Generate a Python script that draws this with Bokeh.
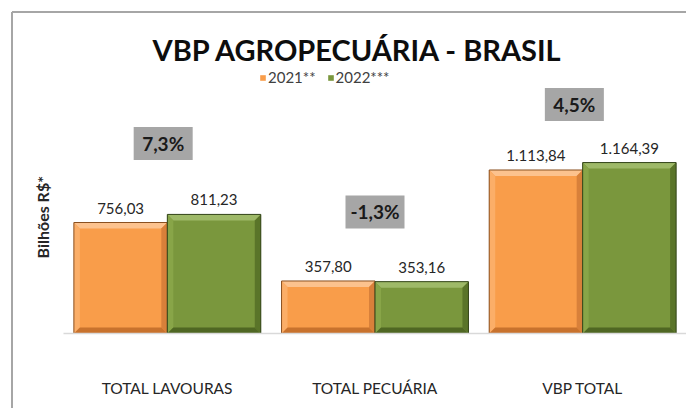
from bokeh.plotting import figure
from bokeh.models import ColumnDataSource, Legend, LegendItem, FixedTicker, Range1d, Title
from bokeh.core.properties import value
from bokeh.embed import file_html
from bokeh.resources import INLINE

# ---- data ----
categories = ["TOTAL LAVOURAS", "TOTAL PECUÁRIA", "VBP TOTAL"]
series = ["2021**", "2022***"]
v2021 = [756.03, 357.80, 1113.84]
v2022 = [811.23, 353.16, 1164.39]


def br(v):
    s = f"{v:,.2f}"
    return s.replace(",", "X").replace(".", ",").replace("X", ".")


pct = [(b / a - 1) * 100 for a, b in zip(v2021, v2022)]
pct_lbl = [f"{p:.1f}%".replace(".", ",") for p in pct]

# ---- layout helpers ----
FONT = "Lato"
FRAME_W = 623
FRAME_H = 266
Y_END = 1812
centers = [i + 0.5 for i in range(len(categories))]
bw = 0.45
x21 = [c - bw / 2 for c in centers]
x22 = [c + bw / 2 for c in centers]
box_gap = [483, 470, 396]          # vertical gap (data units) of % boxes above tallest bar
box_y = [max(a, b) + g for a, b, g in zip(v2021, v2022, box_gap)]
box_x = [c - dx for c, dx in zip(centers, [0.02, 0.0, 0.04])]

ORANGE = dict(main="#F99D4A", top="#FCC28E", left="#FBAE68", right="#D8803A",
              bottom="#C8722D", edge="#8A5020")
GREEN = dict(main="#7A973D", top="#9EB968", left="#88A548", right="#5A7429",
             bottom="#4F6723", edge="#33451A")

tx = 6 / FRAME_W * 3          # bevel thickness in x data units (~6 px)
ty = 6 / FRAME_H * Y_END      # bevel thickness in y data units (~6 px)

p = figure(width=686, height=408, output_backend="svg", toolbar_location=None,
           x_range=Range1d(0, 3), y_range=Range1d(0, Y_END),
           min_border_left=63, min_border_right=0, min_border_top=67,
           min_border_bottom=75)
p.outline_line_color = None
p.grid.grid_line_color = None
p.background_fill_color = "white"
p.border_fill_color = None
p.styles = {
    "background-color": "white",
    "background-image": "linear-gradient(#A6A6A6,#A6A6A6), linear-gradient(#A6A6A6,#A6A6A6)",
    "background-position": "12px 11px, 11px 12px",
    "background-size": "100% 2px, 2px 100%",
    "background-repeat": "no-repeat",
}


def bevel_bars(xs, vals, col):
    l = [x - bw / 2 for x in xs]
    r = [x + bw / 2 for x in xs]
    src = ColumnDataSource(dict(x=xs, top=vals))
    main = p.vbar(x="x", top="top", width=bw, source=src, fill_color=col["main"],
                  line_color=None)
    top_xs = [[a, b, b - tx, a + tx] for a, b in zip(l, r)]
    top_ys = [[v, v, v - ty, v - ty] for v in vals]
    left_xs = [[a, a + tx, a + tx, a] for a in l]
    left_ys = [[v, v - ty, ty, 0] for v in vals]
    right_xs = [[b, b - tx, b - tx, b] for b in r]
    right_ys = [[v, v - ty, ty, 0] for v in vals]
    bot_xs = [[a, a + tx, b - tx, b] for a, b in zip(l, r)]
    bot_ys = [[0, ty, ty, 0] for _ in vals]
    p.patches(top_xs, top_ys, fill_color=col["top"], line_color=None)
    p.patches(left_xs, left_ys, fill_color=col["left"], line_color=None)
    p.patches(right_xs, right_ys, fill_color=col["right"], line_color=None)
    p.patches(bot_xs, bot_ys, fill_color=col["bottom"], line_color=None)
    p.vbar(x="x", top="top", width=bw, source=src, fill_color=None,
           line_color=col["edge"], line_width=1)
    return main


r21 = bevel_bars(x21, v2021, ORANGE)
r22 = bevel_bars(x22, v2022, GREEN)

for xs, vals in ((x21, v2021), (x22, v2022)):
    s = ColumnDataSource(dict(x=xs, top=vals, lbl=[br(v) for v in vals]))
    p.text(x="x", y="top", text="lbl", source=s, text_align="center",
           text_baseline="bottom", y_offset=-9, text_font=value(FONT),
           text_font_size="15px", text_color="#262626")

bsrc = ColumnDataSource(dict(x=box_x, y=box_y, lbl=pct_lbl))
p.rect(x="x", y="y", width=59, height=33, width_units="screen",
       height_units="screen", source=bsrc, fill_color="#A6A6A6", line_color=None)
p.text(x="x", y="y", text="lbl", source=bsrc, text_align="center",
       text_baseline="middle", text_font=value(FONT), text_font_size="19px",
       text_font_style="bold", text_color="#1A1A1A")

# axes
p.xaxis.ticker = FixedTicker(ticks=centers)
p.xaxis.major_label_overrides = {c: n for c, n in zip(centers, categories)}
p.xaxis.major_tick_line_color = None
p.xaxis.minor_tick_line_color = None
p.xaxis.axis_line_color = "#D9D9D9"
p.xaxis.axis_line_width = 1.5
p.xaxis.major_label_standoff = 39
p.xaxis.major_label_text_font = FONT
p.xaxis.major_label_text_font_size = "15.5px"
p.xaxis.major_label_text_color = "#262626"

p.yaxis.visible = False

# y-axis title (vertical, on the left)
ytitle = Title(text="Bilhões R$*", align="left", offset=75, standoff=24,
               text_font=FONT, text_font_size="16px", text_font_style="bold",
               text_color="#262626")
p.add_layout(ytitle, "left")

# title
p.title.text = "VBP AGROPECUÁRIA - BRASIL"
p.title.align = "left"
p.title.offset = 89
p.title.text_font = FONT
p.title.text_font_size = "29px"
p.title.text_font_style = "bold"
p.title.text_color = "#0D0D0D"
p.title.standoff = 1

legend = Legend(items=[LegendItem(label=series[0], renderers=[r21]),
                       LegendItem(label=series[1], renderers=[r22])],
                orientation="horizontal", location=(196, 247),
                glyph_width=7, glyph_height=7, label_text_font=FONT,
                label_text_font_size="15px", label_text_color="#404040",
                padding=0, margin=0, spacing=11, label_standoff=2,
                border_line_color=None, background_fill_alpha=0)
p.add_layout(legend)

open("out.html", "w").write(file_html(p, INLINE))
